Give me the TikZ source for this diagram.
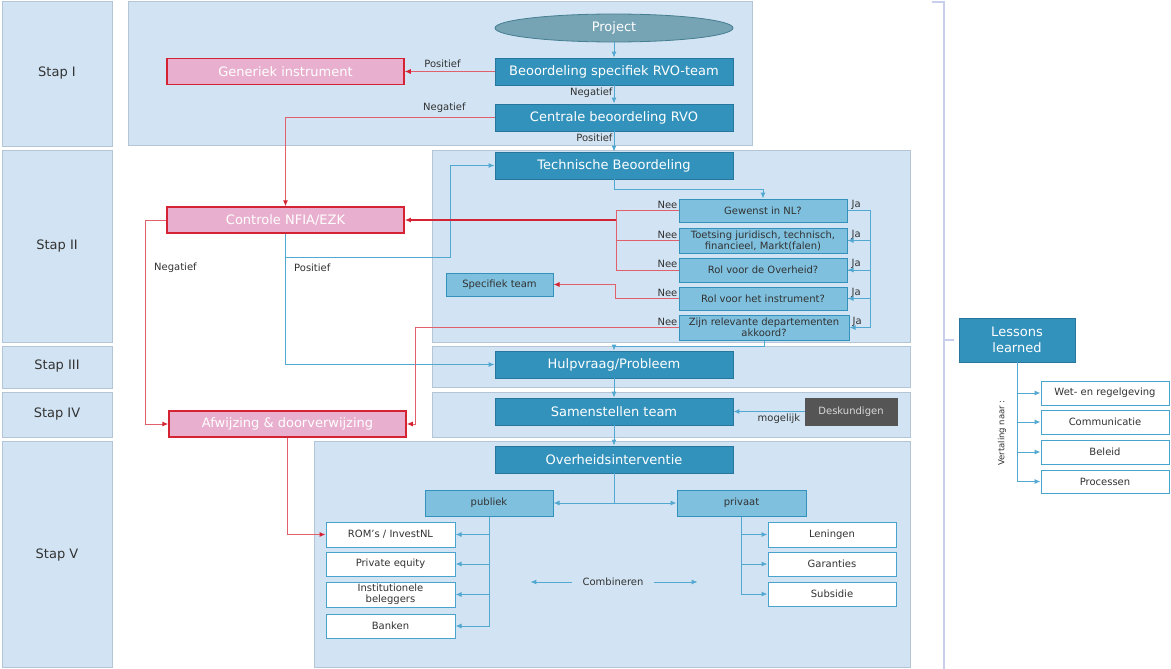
\documentclass[tikz,border=0pt]{standalone}
\usepackage{fontspec}
\setmainfont{DejaVu Sans}
\usetikzlibrary{shapes.geometric,arrows.meta}

\definecolor{panelfill}{RGB}{210,228,243}
\definecolor{paneldraw}{RGB}{180,198,214}
\definecolor{darkblue}{RGB}{50,146,188}
\definecolor{darkblueline}{RGB}{38,118,158}
\definecolor{lightblue}{RGB}{126,192,222}
\definecolor{boxline}{RGB}{72,164,204}
\definecolor{arrowblue}{RGB}{82,168,208}
\definecolor{pinkfill}{RGB}{232,176,206}
\definecolor{redline}{RGB}{212,36,52}
\definecolor{redthin}{RGB}{226,96,108}
\definecolor{ellfill}{RGB}{118,164,180}
\definecolor{ellline}{RGB}{70,126,146}
\definecolor{greybox}{RGB}{85,85,85}
\definecolor{bracecol}{RGB}{200,206,236}
\definecolor{labeltext}{RGB}{50,50,50}

\tikzset{
  panel/.style={fill=panelfill, draw=paneldraw, line width=1pt},
  stapname/.style={font=\fontsize{13}{15}\selectfont, text=labeltext},
  bigbox/.style={rectangle, fill=darkblue, draw=darkblueline, line width=0.8pt, text=white,
    font=\fontsize{13}{15}\selectfont, minimum width=238pt, minimum height=27pt, inner sep=0pt},
  pinkbox/.style={bigbox, fill=pinkfill, draw=redline, line width=1.5pt, minimum width=237pt, minimum height=26pt},
  questbox/.style={rectangle, fill=lightblue, draw=darkblue, line width=1pt, text=labeltext,
    font=\fontsize{10}{11}\selectfont, align=center, minimum width=168pt, minimum height=23pt, inner sep=0pt},
  whitebox/.style={questbox, fill=white, draw=boxline, minimum width=129pt, minimum height=24pt},
  lbl/.style={font=\fontsize{10}{12}\selectfont, text=labeltext, inner sep=1pt},
  bline/.style={draw=arrowblue, line width=1pt},
  barrow/.style={bline, -{Latex[length=6pt,width=5pt]}},
  rline/.style={draw=redthin, line width=1pt},
  rarrow/.style={rline, -{Latex[length=6pt,width=5pt,color=redline]}},
  brace/.style={draw=bracecol, line width=1.2pt}
}

\begin{document}
\begin{tikzpicture}[x=1pt,y=-1pt]
  \fill[white] (0,0) rectangle (1171,669);
  \useasboundingbox (0,0) rectangle (1171,669);

  \draw[panel] (2,2) rectangle (112,146);
  \draw[panel] (2,150) rectangle (112,342);
  \draw[panel] (2,346) rectangle (112,388);
  \draw[panel] (2,392) rectangle (112,437);
  \draw[panel] (2,441) rectangle (112,667);
  \draw[panel] (128,2) rectangle (752,145);
  \draw[panel] (432,150) rectangle (910,342);
  \draw[panel] (432,346) rectangle (910,387);
  \draw[panel] (432,392) rectangle (910,437);
  \draw[panel] (314,441) rectangle (910,667);

  \node[stapname] (stap1) at (57,73) {Stap I};
  \node[stapname] (stap2) at (57,246) {Stap II};
  \node[stapname] (stap3) at (57,366) {Stap III};
  \node[stapname] (stap4) at (57,414) {Stap IV};
  \node[stapname] (stap5) at (57,555) {Stap V};

  \draw[brace] (932,2) -- (944,2) -- (944,669);
  \draw[brace] (944,340) -- (954,340);

  \node[ellipse, fill=ellfill, draw=ellline, line width=0.8pt, text=white, font=\fontsize{13}{15}\selectfont,
    minimum width=238pt, minimum height=28pt, inner sep=0pt] (project) at (614,28) {Project};
  \node[bigbox] (specifiek) at (614,71.5) {Beoordeling specifiek RVO-team};
  \node[bigbox] (centraal) at (614,117.5) {Centrale beoordeling RVO};
  \node[pinkbox] (generiek) at (285.5,71.5) {Generiek instrument};
  \node[bigbox] (technisch) at (614,165.5) {Technische Beoordeling};
  \node[pinkbox] (controle) at (285.5,220) {Controle NFIA/EZK};
  \node[questbox] (gewenst) at (763,210.5) {Gewenst in NL?};
  \node[questbox, minimum height=25pt] (toetsing) at (763,240.5) {Toetsing juridisch, technisch,\\financieel, Markt(falen)};
  \node[questbox, minimum height=24pt] (rolover) at (763,270) {Rol voor de Overheid?};
  \node[questbox] (rolinstr) at (763,298.5) {Rol voor het instrument?};
  \node[questbox, minimum width=170pt, minimum height=25pt] (akkoord) at (764,327.5) {Zijn relevante departementen\\akkoord?};
  \node[questbox, minimum width=107pt] (specteam) at (499.5,284.5) {Specifiek team};
  \node[bigbox] (hulpvraag) at (614,364.5) {Hulpvraag/Probleem};
  \node[bigbox] (samenstellen) at (614,411.5) {Samenstellen team};
  \node[bigbox, fill=greybox, draw=greybox, text=white!85!black, font=\fontsize{10}{12}\selectfont,
    minimum width=92pt] (deskundigen) at (851,411.5) {Deskundigen};
  \node[pinkbox] (afwijzing) at (287.5,424) {Afwijzing \& doorverwijzing};
  \node[bigbox] (interventie) at (614,459.5) {Overheidsinterventie};
  \node[questbox, minimum width=128pt, minimum height=26pt] (publiek) at (489,503) {publiek};
  \node[questbox, minimum width=129pt, minimum height=26pt] (privaat) at (741.5,503) {privaat};
  \node[whitebox, minimum height=25pt] (rom) at (390.5,534.5) {ROM’s / InvestNL};
  \node[whitebox] (equity) at (390.5,564) {Private equity};
  \node[whitebox, minimum height=25pt] (beleggers) at (390.5,594.5) {Institutionele\\beleggers};
  \node[whitebox] (banken) at (390.5,626) {Banken};
  \node[whitebox, minimum width=128pt, minimum height=25pt] (leningen) at (832,534.5) {Leningen};
  \node[whitebox, minimum width=128pt] (garanties) at (832,564) {Garanties};
  \node[whitebox, minimum width=128pt] (subsidie) at (832,594) {Subsidie};
  \node[lbl, inner xsep=10pt] (combi) at (613,582) {Combineren};
  \node[bigbox, minimum width=116pt, minimum height=44pt, align=center,
    font=\fontsize{13}{16}\selectfont] (lessons) at (1017,340) {Lessons\\learned};
  \node[whitebox, minimum width=128pt] (wet) at (1105,393) {Wet- en regelgeving};
  \node[whitebox, minimum width=128pt] (communicatie) at (1105,422) {Communicatie};
  \node[whitebox, minimum width=128pt] (beleid) at (1105,452) {Beleid};
  \node[whitebox, minimum width=128pt, minimum height=23pt] (processen) at (1105,481.5) {Processen};
  \node[lbl, rotate=90, font=\fontsize{8.5}{10}\selectfont] (vertaling) at (1002,433) {Vertaling naar :};

  \draw[barrow] (project.south) -- (specifiek.north);
  \draw[barrow] (specifiek.south) -- node[lbl, left, pos=0.4] {Negatief} (centraal.north);
  \draw[barrow] (centraal.south) -- node[lbl, left, pos=0.3] {Positief} (technisch.north);
  \draw[rarrow] (specifiek.west) -- node[lbl, above=2pt, pos=0.58] {Positief} (generiek.east);
  \draw[rarrow] (centraal.west) -| node[lbl, above=3pt, pos=0.12] {Negatief} (controle.north);
  \draw[barrow] (technisch.south) -- ++(0,10) -| (gewenst.north);

  \draw[barrow] (controle.south) |- (450,257) |- (technisch.west);
  \draw[barrow] (controle.south) |- (hulpvraag.west);
  \node[lbl, anchor=west] (positief) at (293,268) {Positief};
  \draw[rarrow] (controle.west) -- ++(-21,0) |- (afwijzing.west);
  \node[lbl, anchor=west] (negatief) at (153,268) {Negatief};

  \coordinate (neejoin) at (616,220);
  \draw[rline] (gewenst.west) -| (neejoin);
  \draw[rline] (toetsing.west) -| (neejoin);
  \draw[rline] (rolover.west) -| (neejoin);
  \draw[rarrow, draw=redline, line width=1.6pt] (neejoin) -- (controle.east);
  \draw[rarrow] (rolinstr.west) -- ++(-63,0) |- (specteam.east);
  \draw[rarrow] (akkoord.west) -| ([xshift=9pt]afwijzing.east) -- (afwijzing.east);

  \foreach \q in {gewenst,toetsing,rolover,rolinstr,akkoord}{
    \node[lbl, anchor=east] at ([yshift=6pt]\q.west) {Nee};
  }
  \foreach \q in {gewenst,toetsing,rolover,rolinstr}{
    \node[lbl, anchor=west] at ([yshift=6pt,xshift=3pt]\q.east) {Ja};
  }
  \node[lbl, anchor=west] at ([yshift=6pt,xshift=2pt]akkoord.east) {Ja};
  \draw[barrow] (gewenst.east) -- ++(23,0) |- (toetsing.east);
  \draw[barrow] (toetsing.east) -- ++(23,0) |- (rolover.east);
  \draw[barrow] (rolover.east) -- ++(23,0) |- (rolinstr.east);
  \draw[barrow] (rolinstr.east) -- ++(23,0) |- (akkoord.east);
  \draw[barrow] (akkoord.south) -- ++(0,6) -| (hulpvraag.north);

  \draw[barrow] (hulpvraag.south) -- (samenstellen.north);
  \draw[barrow] (deskundigen.west) -- node[lbl, below=1pt, pos=0.36] {mogelijk} (samenstellen.east);
  \draw[barrow] (samenstellen.south) -- (interventie.north);
  \draw[rarrow] (afwijzing.south) |- (rom.west);

  \draw[barrow] (interventie.south) |- (publiek.east);
  \draw[barrow] (interventie.south) |- (privaat.west);
  \foreach \b in {rom,equity,beleggers,banken}{
    \draw[barrow] (publiek.south) |- (\b.east);
  }
  \foreach \b in {leningen,garanties,subsidie}{
    \draw[barrow] (privaat.south) |- (\b.west);
  }
  \draw[barrow] (combi.west) -- ++(-42,0);
  \draw[barrow] (combi.east) -- ++(44,0);

  \foreach \b in {wet,communicatie,beleid,processen}{
    \draw[barrow] (lessons.south) |- (\b.west);
  }
\end{tikzpicture}
\end{document}
